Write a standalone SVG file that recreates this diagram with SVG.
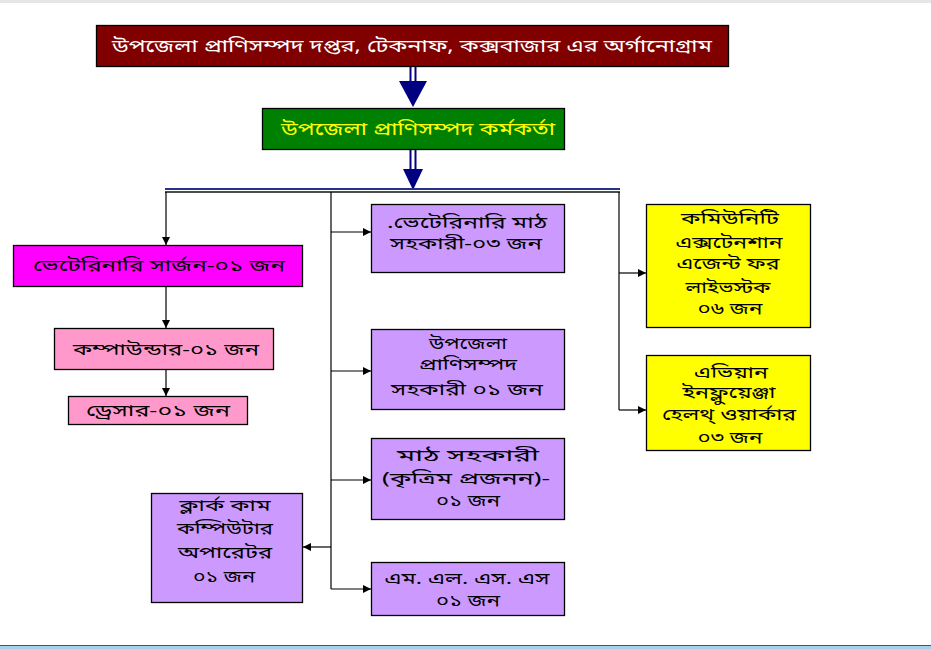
<svg xmlns="http://www.w3.org/2000/svg" width="931" height="649" viewBox="0 0 931 649">
<defs>
<marker id="ah" markerWidth="8" markerHeight="8" refX="8" refY="4" orient="auto" markerUnits="userSpaceOnUse">
<path d="M0,0 L8,4 L0,8 Z" fill="#000"/>
</marker>
<style>
.t{font-family:"Noto Sans","Noto Sans Bengali","DejaVu Sans",sans-serif;font-size:16px;fill:#000;text-anchor:middle}
.b{stroke:#000;stroke-width:1.3}
.c{stroke:#000;stroke-width:1.2;fill:none}
.nv{stroke:#000080;stroke-width:2;fill:none}
</style>
</defs>
<rect width="931" height="649" fill="#fff"/>
<rect x="0" y="0" width="931" height="3" fill="#e6e6e6"/>
<rect x="0" y="645" width="931" height="4" fill="#a9cfe9"/>
<line x1="0" y1="645.5" x2="931" y2="645.5" stroke="#3a5a70" stroke-width="1"/>

<g id="connectors">
<line class="nv" x1="410.5" y1="67" x2="410.5" y2="84"/>
<line class="nv" x1="415.5" y1="67" x2="415.5" y2="84"/>
<path d="M399,81 L427,81 L413,107 Z" fill="#000080"/>
<line class="nv" x1="410.5" y1="150" x2="410.5" y2="171"/>
<line class="nv" x1="415.5" y1="150" x2="415.5" y2="171"/>
<path d="M403,169 L423,169 L413,190 Z" fill="#000080"/>
<line x1="165" y1="189" x2="620" y2="189" stroke="#23338a" stroke-width="2"/>
<line x1="165" y1="192" x2="620" y2="192" stroke="#111" stroke-width="1.3"/>
<line class="c" x1="166" y1="192" x2="166" y2="245" marker-end="url(#ah)"/>
<line class="c" x1="166" y1="287" x2="166" y2="328" marker-end="url(#ah)"/>
<line class="c" x1="166" y1="370" x2="166" y2="396" marker-end="url(#ah)"/>
<line class="c" x1="331" y1="192" x2="331" y2="589"/>
<line class="c" x1="331" y1="232" x2="371" y2="232" marker-end="url(#ah)"/>
<line class="c" x1="331" y1="371" x2="371" y2="371" marker-end="url(#ah)"/>
<line class="c" x1="331" y1="480" x2="371" y2="480" marker-end="url(#ah)"/>
<line class="c" x1="331" y1="589" x2="371" y2="589" marker-end="url(#ah)"/>
<line class="c" x1="331" y1="547" x2="303" y2="547" marker-end="url(#ah)"/>
<line class="c" x1="619" y1="192" x2="619" y2="410"/>
<line class="c" x1="619" y1="273" x2="646" y2="273" marker-end="url(#ah)"/>
<line class="c" x1="619" y1="410" x2="646" y2="410" marker-end="url(#ah)"/>
</g>

<g id="n-title">
<rect class="b" x="96.5" y="25.5" width="632" height="41" fill="#800000"/>
<text class="t" x="412" y="52" style="fill:#fff;font-size:18px" textLength="600" lengthAdjust="spacingAndGlyphs">উপজেলা প্রাণিসম্পদ দপ্তর, টেকনাফ, কক্সবাজার এর অর্গানোগ্রাম</text>
</g>
<g id="n-officer">
<rect class="b" x="262.5" y="108.5" width="302" height="41" fill="#008000"/>
<text class="t" x="418" y="135" style="fill:#ffff00;font-size:18px" textLength="274" lengthAdjust="spacingAndGlyphs">উপজেলা প্রাণিসম্পদ কর্মকর্তা</text>
</g>
<g id="n-surgeon">
<rect class="b" x="13.5" y="245.5" width="289" height="41" fill="#ff00ff"/>
<text class="t" x="159" y="271" textLength="252" lengthAdjust="spacingAndGlyphs">ভেটেরিনারি সার্জন-০১ জন</text>
</g>
<g id="n-compounder">
<rect class="b" x="54.5" y="328.5" width="219" height="41" fill="#ff99cc"/>
<text class="t" x="166" y="355" textLength="186" lengthAdjust="spacingAndGlyphs">কম্পাউন্ডার-০১ জন</text>
</g>
<g id="n-dresser">
<rect class="b" x="68.5" y="396.5" width="179" height="28" fill="#ff99cc"/>
<text class="t" x="158" y="416" textLength="144" lengthAdjust="spacingAndGlyphs">ড্রেসার-০১ জন</text>
</g>
<g id="n-vfa">
<rect class="b" x="371.5" y="204.5" width="193" height="68" fill="#cc99ff"/>
<text class="t" x="467" y="228" textLength="160" lengthAdjust="spacingAndGlyphs">.ভেটেরিনারি মাঠ</text>
<text class="t" x="466" y="249" textLength="152" lengthAdjust="spacingAndGlyphs">সহকারী-০৩ জন</text>
</g>
<g id="n-ulas">
<rect class="b" x="371.5" y="329.5" width="193" height="80" fill="#cc99ff"/>
<text class="t" x="468" y="349" textLength="78" lengthAdjust="spacingAndGlyphs">উপজেলা</text>
<text class="t" x="468" y="370" textLength="98" lengthAdjust="spacingAndGlyphs">প্রাণিসম্পদ</text>
<text class="t" x="467" y="395" textLength="152" lengthAdjust="spacingAndGlyphs">সহকারী ০১ জন</text>
</g>
<g id="n-fieldai">
<rect class="b" x="371.5" y="438.5" width="193" height="81" fill="#cc99ff"/>
<text class="t" x="468" y="461" textLength="142" lengthAdjust="spacingAndGlyphs">মাঠ সহকারী</text>
<text class="t" x="466" y="484" textLength="168" lengthAdjust="spacingAndGlyphs">(কৃত্রিম প্রজনন)-</text>
<text class="t" x="468" y="506" textLength="64" lengthAdjust="spacingAndGlyphs">০১ জন</text>
</g>
<g id="n-mlss">
<rect class="b" x="371.5" y="562.5" width="193" height="53" fill="#cc99ff"/>
<text class="t" x="467" y="584" textLength="165" lengthAdjust="spacingAndGlyphs">এম. এল. এস. এস</text>
<text class="t" x="468" y="606" textLength="64" lengthAdjust="spacingAndGlyphs">০১ জন</text>
</g>
<g id="n-clerk">
<rect class="b" x="151.5" y="493.5" width="151" height="109" fill="#cc99ff"/>
<text class="t" x="225" y="511" textLength="91" lengthAdjust="spacingAndGlyphs">ক্লার্ক কাম</text>
<text class="t" x="225" y="534" textLength="96" lengthAdjust="spacingAndGlyphs">কম্পিউটার</text>
<text class="t" x="225" y="558" textLength="94" lengthAdjust="spacingAndGlyphs">অপারেটর</text>
<text class="t" x="224" y="582" textLength="62" lengthAdjust="spacingAndGlyphs">০১ জন</text>
</g>
<g id="n-celf">
<rect class="b" x="646.5" y="204.5" width="164" height="123" fill="#ffff00"/>
<text class="t" x="730" y="224" textLength="98" lengthAdjust="spacingAndGlyphs">কমিউনিটি</text>
<text class="t" x="729" y="248" textLength="107" lengthAdjust="spacingAndGlyphs">এক্সটেনশান</text>
<text class="t" x="728" y="269" textLength="103" lengthAdjust="spacingAndGlyphs">এজেন্ট ফর</text>
<text class="t" x="728" y="293" textLength="85" lengthAdjust="spacingAndGlyphs">লাইভস্টক</text>
<text class="t" x="730" y="314" textLength="65" lengthAdjust="spacingAndGlyphs">০৬ জন</text>
</g>
<g id="n-aihw">
<rect class="b" x="646.5" y="355.5" width="164" height="95" fill="#ffff00"/>
<text class="t" x="731" y="378" textLength="74" lengthAdjust="spacingAndGlyphs">এভিয়ান</text>
<text class="t" x="729" y="398" textLength="93" lengthAdjust="spacingAndGlyphs">ইনফ্লুয়েঞ্জা</text>
<text class="t" x="729" y="420" textLength="134" lengthAdjust="spacingAndGlyphs">হেলথ্ ওয়ার্কার</text>
<text class="t" x="730" y="443" textLength="65" lengthAdjust="spacingAndGlyphs">০৩ জন</text>
</g>
</svg>
